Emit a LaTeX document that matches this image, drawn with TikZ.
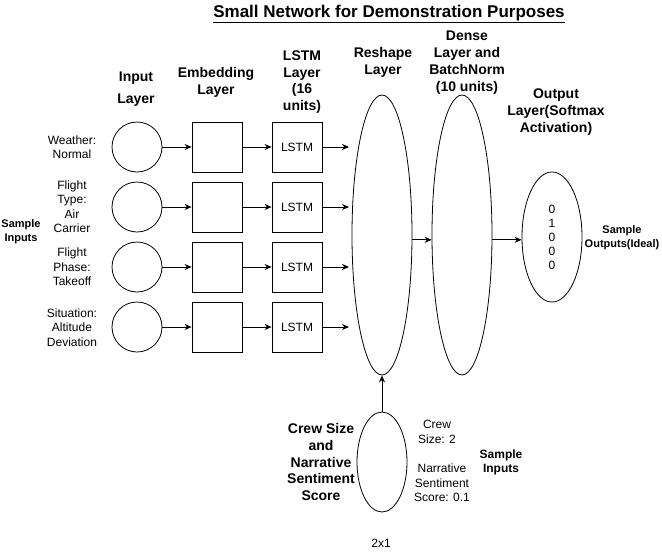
\documentclass[tikz,border=0pt]{standalone}
\usepackage{fontspec}
\setmainfont{Liberation Sans}
\usetikzlibrary{arrows.meta,shapes.geometric}
\newcommand\myfs[2]{\fontsize{#1}{#2}\selectfont}
\begin{document}
\begin{tikzpicture}[x=1pt,y=-1pt,line width=0.8pt,
  txt/.style={align=center,inner sep=0pt,font=\myfs{12}{14.5}},
  btxt/.style={align=center,inner sep=0pt,font=\myfs{11}{14}\bfseries},
  hdr/.style={align=center,inner sep=0pt,font=\myfs{14}{16.8}\bfseries},
  inp/.style={draw,circle,minimum size=50pt,inner sep=0pt},
  boxn/.style={draw,rectangle,minimum size=50pt,inner sep=0pt,font=\myfs{12}{14}},
  ell/.style={draw,ellipse,inner sep=0pt,align=center},
  arr/.style={-{Stealth[length=7pt,width=6pt]}}]
\useasboundingbox (0,0) rectangle (662,552);
% title
\node[anchor=base,inner sep=0pt,font=\myfs{17}{20}\bfseries] (title) at (389,17) {\underline{Small Network for Demonstration Purposes}};
% headers
\node[hdr,font=\myfs{14}{22}\bfseries] (hin) at (136,89) {Input\\Layer};
\node[hdr] (hemb) at (216,82) {Embedding\\Layer};
\node[hdr] (hlstm) at (302,82) {LSTM\\Layer\\(16\\units)};
\node[hdr] (hres) at (383,62) {Reshape\\Layer};
\node[hdr] (hden) at (467,62.5) {Dense\\Layer and\\BatchNorm\\(10 units)};
\node[hdr] (hout) at (556,112) {Output\\Layer(Softmax\\Activation)};
% left labels
\node[txt] (w1) at (72,147) {Weather:\\Normal};
\node[txt] (w2) at (72,206.5) {Flight\\Type:\\Air\\Carrier};
\node[txt] (w3) at (72,267) {Flight\\Phase:\\Takeoff};
\node[txt] (w4) at (72,327.5) {Situation:\\Altitude\\Deviation};
\node[btxt] (sin) at (21,232) {Sample\\Inputs};
% rows
\foreach \i/\y in {1/147,2/207,3/267,4/327} {
  \node[inp] (c\i) at (137,\y) {};
  \node[boxn] (e\i) at (217,\y) {};
  \node[boxn] (l\i) at (297,\y) {LSTM};
  \coordinate (r\i) at (349,\y);
  \draw[arr] (c\i) -- (e\i);
  \draw[arr] (e\i) -- (l\i);
  \draw[arr] (l\i) -- (r\i);
}
% big ellipses
\node[ell,minimum width=60pt,minimum height=280pt] (resh) at (382,235) {};
\node[ell,minimum width=60pt,minimum height=280pt] (dense) at (462,235) {};
\node[ell,minimum width=60pt,minimum height=130pt,font=\myfs{12}{14}] (out) at (552,237) {0\\1\\0\\0\\0};
\node[ell,minimum width=50pt,minimum height=100pt] (crew) at (382,462) {};
\draw[arr] (resh.-9.5) -- (dense.189.5);
\draw[arr] (dense.-9.5) -- (out.west |- dense.-9.5);
\draw[arr] (crew) -- (resh);
% right / bottom labels
\node[btxt] (sout) at (622,237.5) {Sample\\Outputs(Ideal)};
\node[hdr] (hcrew) at (321,462) {Crew Size\\and\\Narrative\\Sentiment\\Score};
\node[txt,font=\myfs{12}{15}] (cs) at (437,431.5) {Crew\\Size: 2};
\node[txt] (ns) at (442,483) {Narrative\\Sentiment\\Score: 0.1};
\node[btxt,font=\myfs{12}{14}\bfseries] (sin2) at (501,462) {Sample\\Inputs};
\node[txt] (dim) at (381,543) {2x1};
\end{tikzpicture}
\end{document}
